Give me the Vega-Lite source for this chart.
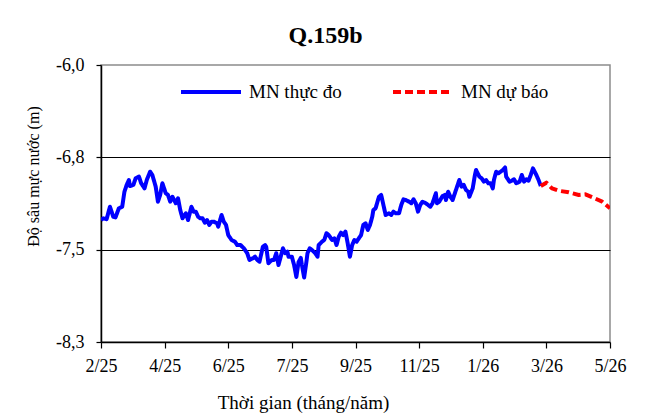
{
  "$schema": "https://vega.github.io/schema/vega-lite/v6.json",
  "autosize": "none",
  "width": 509,
  "height": 277,
  "padding": {"left": 101, "top": 65, "right": 42, "bottom": 78},
  "background": "white",
  "title": {"text": "Q.159b", "font": "Liberation Serif", "fontSize": 24, "fontWeight": "bold", "color": "black", "anchor": "middle", "dx": -30, "offset": 8},
  "data": {"values": [
    {"date": "2025-02-24", "depth": -7.287, "series": "MN thực đo"},
    {"date": "2025-02-26", "depth": -7.273, "series": "MN thực đo"},
    {"date": "2025-03-01", "depth": -7.281, "series": "MN thực đo"},
    {"date": "2025-03-04", "depth": -7.177, "series": "MN thực đo"},
    {"date": "2025-03-07", "depth": -7.260, "series": "MN thực đo"},
    {"date": "2025-03-09", "depth": -7.265, "series": "MN thực đo"},
    {"date": "2025-03-12", "depth": -7.190, "series": "MN thực đo"},
    {"date": "2025-03-15", "depth": -7.177, "series": "MN thực đo"},
    {"date": "2025-03-17", "depth": -7.052, "series": "MN thực đo"},
    {"date": "2025-03-19", "depth": -6.996, "series": "MN thực đo"},
    {"date": "2025-03-21", "depth": -6.955, "series": "MN thực đo"},
    {"date": "2025-03-22", "depth": -7.005, "series": "MN thực đo"},
    {"date": "2025-03-25", "depth": -6.996, "series": "MN thực đo"},
    {"date": "2025-03-27", "depth": -6.941, "series": "MN thực đo"},
    {"date": "2025-03-30", "depth": -6.927, "series": "MN thực đo"},
    {"date": "2025-04-01", "depth": -6.982, "series": "MN thực đo"},
    {"date": "2025-04-04", "depth": -7.024, "series": "MN thực đo"},
    {"date": "2025-04-06", "depth": -6.955, "series": "MN thực đo"},
    {"date": "2025-04-09", "depth": -6.886, "series": "MN thực đo"},
    {"date": "2025-04-11", "depth": -6.913, "series": "MN thực đo"},
    {"date": "2025-04-14", "depth": -7.010, "series": "MN thực đo"},
    {"date": "2025-04-16", "depth": -7.135, "series": "MN thực đo"},
    {"date": "2025-04-18", "depth": -7.079, "series": "MN thực đo"},
    {"date": "2025-04-20", "depth": -6.982, "series": "MN thực đo"},
    {"date": "2025-04-23", "depth": -7.065, "series": "MN thực đo"},
    {"date": "2025-04-25", "depth": -7.079, "series": "MN thực đo"},
    {"date": "2025-04-27", "depth": -7.135, "series": "MN thực đo"},
    {"date": "2025-04-29", "depth": -7.094, "series": "MN thực đo"},
    {"date": "2025-05-02", "depth": -7.148, "series": "MN thực đo"},
    {"date": "2025-05-04", "depth": -7.107, "series": "MN thực đo"},
    {"date": "2025-05-06", "depth": -7.204, "series": "MN thực đo"},
    {"date": "2025-05-08", "depth": -7.273, "series": "MN thực đo"},
    {"date": "2025-05-11", "depth": -7.231, "series": "MN thực đo"},
    {"date": "2025-05-13", "depth": -7.287, "series": "MN thực đo"},
    {"date": "2025-05-16", "depth": -7.177, "series": "MN thực đo"},
    {"date": "2025-05-18", "depth": -7.218, "series": "MN thực đo"},
    {"date": "2025-05-20", "depth": -7.218, "series": "MN thực đo"},
    {"date": "2025-05-22", "depth": -7.260, "series": "MN thực đo"},
    {"date": "2025-05-24", "depth": -7.273, "series": "MN thực đo"},
    {"date": "2025-05-26", "depth": -7.273, "series": "MN thực đo"},
    {"date": "2025-05-28", "depth": -7.309, "series": "MN thực đo"},
    {"date": "2025-05-30", "depth": -7.287, "series": "MN thực đo"},
    {"date": "2025-06-01", "depth": -7.328, "series": "MN thực đo"},
    {"date": "2025-06-03", "depth": -7.301, "series": "MN thực đo"},
    {"date": "2025-06-05", "depth": -7.301, "series": "MN thực đo"},
    {"date": "2025-06-08", "depth": -7.314, "series": "MN thực đo"},
    {"date": "2025-06-09", "depth": -7.343, "series": "MN thực đo"},
    {"date": "2025-06-12", "depth": -7.245, "series": "MN thực đo"},
    {"date": "2025-06-14", "depth": -7.301, "series": "MN thực đo"},
    {"date": "2025-06-16", "depth": -7.328, "series": "MN thực đo"},
    {"date": "2025-06-18", "depth": -7.412, "series": "MN thực đo"},
    {"date": "2025-06-21", "depth": -7.453, "series": "MN thực đo"},
    {"date": "2025-06-24", "depth": -7.467, "series": "MN thực đo"},
    {"date": "2025-06-26", "depth": -7.495, "series": "MN thực đo"},
    {"date": "2025-06-29", "depth": -7.495, "series": "MN thực đo"},
    {"date": "2025-07-02", "depth": -7.522, "series": "MN thực đo"},
    {"date": "2025-07-05", "depth": -7.563, "series": "MN thực đo"},
    {"date": "2025-07-07", "depth": -7.619, "series": "MN thực đo"},
    {"date": "2025-07-10", "depth": -7.605, "series": "MN thực đo"},
    {"date": "2025-07-12", "depth": -7.592, "series": "MN thực đo"},
    {"date": "2025-07-14", "depth": -7.619, "series": "MN thực đo"},
    {"date": "2025-07-16", "depth": -7.633, "series": "MN thực đo"},
    {"date": "2025-07-19", "depth": -7.509, "series": "MN thực đo"},
    {"date": "2025-07-21", "depth": -7.495, "series": "MN thực đo"},
    {"date": "2025-07-22", "depth": -7.509, "series": "MN thực đo"},
    {"date": "2025-07-24", "depth": -7.646, "series": "MN thực đo"},
    {"date": "2025-07-27", "depth": -7.619, "series": "MN thực đo"},
    {"date": "2025-07-29", "depth": -7.619, "series": "MN thực đo"},
    {"date": "2025-07-31", "depth": -7.563, "series": "MN thực đo"},
    {"date": "2025-08-02", "depth": -7.661, "series": "MN thực đo"},
    {"date": "2025-08-04", "depth": -7.592, "series": "MN thực đo"},
    {"date": "2025-08-06", "depth": -7.522, "series": "MN thực đo"},
    {"date": "2025-08-08", "depth": -7.563, "series": "MN thực đo"},
    {"date": "2025-08-10", "depth": -7.550, "series": "MN thực đo"},
    {"date": "2025-08-11", "depth": -7.592, "series": "MN thực đo"},
    {"date": "2025-08-14", "depth": -7.592, "series": "MN thực đo"},
    {"date": "2025-08-16", "depth": -7.661, "series": "MN thực đo"},
    {"date": "2025-08-18", "depth": -7.760, "series": "MN thực đo"},
    {"date": "2025-08-20", "depth": -7.636, "series": "MN thực đo"},
    {"date": "2025-08-22", "depth": -7.602, "series": "MN thực đo"},
    {"date": "2025-08-23", "depth": -7.661, "series": "MN thực đo"},
    {"date": "2025-08-25", "depth": -7.764, "series": "MN thực đo"},
    {"date": "2025-08-27", "depth": -7.636, "series": "MN thực đo"},
    {"date": "2025-08-28", "depth": -7.563, "series": "MN thực đo"},
    {"date": "2025-08-30", "depth": -7.522, "series": "MN thực đo"},
    {"date": "2025-09-01", "depth": -7.536, "series": "MN thực đo"},
    {"date": "2025-09-04", "depth": -7.563, "series": "MN thực đo"},
    {"date": "2025-09-06", "depth": -7.592, "series": "MN thực đo"},
    {"date": "2025-09-07", "depth": -7.495, "series": "MN thực đo"},
    {"date": "2025-09-10", "depth": -7.467, "series": "MN thực đo"},
    {"date": "2025-09-12", "depth": -7.453, "series": "MN thực đo"},
    {"date": "2025-09-14", "depth": -7.397, "series": "MN thực đo"},
    {"date": "2025-09-16", "depth": -7.412, "series": "MN thực đo"},
    {"date": "2025-09-19", "depth": -7.453, "series": "MN thực đo"},
    {"date": "2025-09-21", "depth": -7.439, "series": "MN thực đo"},
    {"date": "2025-09-23", "depth": -7.495, "series": "MN thực đo"},
    {"date": "2025-09-25", "depth": -7.426, "series": "MN thực đo"},
    {"date": "2025-09-27", "depth": -7.392, "series": "MN thực đo"},
    {"date": "2025-09-29", "depth": -7.412, "series": "MN thực đo"},
    {"date": "2025-10-01", "depth": -7.384, "series": "MN thực đo"},
    {"date": "2025-10-03", "depth": -7.480, "series": "MN thực đo"},
    {"date": "2025-10-05", "depth": -7.592, "series": "MN thực đo"},
    {"date": "2025-10-07", "depth": -7.495, "series": "MN thực đo"},
    {"date": "2025-10-09", "depth": -7.453, "series": "MN thực đo"},
    {"date": "2025-10-11", "depth": -7.467, "series": "MN thực đo"},
    {"date": "2025-10-13", "depth": -7.439, "series": "MN thực đo"},
    {"date": "2025-10-15", "depth": -7.412, "series": "MN thực đo"},
    {"date": "2025-10-17", "depth": -7.328, "series": "MN thực đo"},
    {"date": "2025-10-19", "depth": -7.314, "series": "MN thực đo"},
    {"date": "2025-10-21", "depth": -7.370, "series": "MN thực đo"},
    {"date": "2025-10-23", "depth": -7.328, "series": "MN thực đo"},
    {"date": "2025-10-25", "depth": -7.260, "series": "MN thực đo"},
    {"date": "2025-10-26", "depth": -7.204, "series": "MN thực đo"},
    {"date": "2025-10-28", "depth": -7.190, "series": "MN thực đo"},
    {"date": "2025-10-31", "depth": -7.094, "series": "MN thực đo"},
    {"date": "2025-11-02", "depth": -7.079, "series": "MN thực đo"},
    {"date": "2025-11-04", "depth": -7.162, "series": "MN thực đo"},
    {"date": "2025-11-06", "depth": -7.245, "series": "MN thực đo"},
    {"date": "2025-11-09", "depth": -7.231, "series": "MN thực đo"},
    {"date": "2025-11-11", "depth": -7.245, "series": "MN thực đo"},
    {"date": "2025-11-13", "depth": -7.218, "series": "MN thực đo"},
    {"date": "2025-11-15", "depth": -7.231, "series": "MN thực đo"},
    {"date": "2025-11-18", "depth": -7.231, "series": "MN thực đo"},
    {"date": "2025-11-20", "depth": -7.162, "series": "MN thực đo"},
    {"date": "2025-11-22", "depth": -7.115, "series": "MN thực đo"},
    {"date": "2025-11-24", "depth": -7.121, "series": "MN thực đo"},
    {"date": "2025-11-27", "depth": -7.135, "series": "MN thực đo"},
    {"date": "2025-11-29", "depth": -7.148, "series": "MN thực đo"},
    {"date": "2025-12-01", "depth": -7.115, "series": "MN thực đo"},
    {"date": "2025-12-03", "depth": -7.148, "series": "MN thực đo"},
    {"date": "2025-12-05", "depth": -7.218, "series": "MN thực đo"},
    {"date": "2025-12-07", "depth": -7.162, "series": "MN thực đo"},
    {"date": "2025-12-09", "depth": -7.135, "series": "MN thực đo"},
    {"date": "2025-12-12", "depth": -7.148, "series": "MN thực đo"},
    {"date": "2025-12-14", "depth": -7.162, "series": "MN thực đo"},
    {"date": "2025-12-16", "depth": -7.177, "series": "MN thực đo"},
    {"date": "2025-12-18", "depth": -7.148, "series": "MN thực đo"},
    {"date": "2025-12-21", "depth": -7.065, "series": "MN thực đo"},
    {"date": "2025-12-22", "depth": -7.148, "series": "MN thực đo"},
    {"date": "2025-12-24", "depth": -7.135, "series": "MN thực đo"},
    {"date": "2025-12-27", "depth": -7.088, "series": "MN thực đo"},
    {"date": "2025-12-29", "depth": -7.079, "series": "MN thực đo"},
    {"date": "2025-12-30", "depth": -7.121, "series": "MN thực đo"},
    {"date": "2026-01-01", "depth": -7.052, "series": "MN thực đo"},
    {"date": "2026-01-03", "depth": -7.094, "series": "MN thực đo"},
    {"date": "2026-01-05", "depth": -7.121, "series": "MN thực đo"},
    {"date": "2026-01-07", "depth": -7.065, "series": "MN thực đo"},
    {"date": "2026-01-09", "depth": -7.010, "series": "MN thực đo"},
    {"date": "2026-01-11", "depth": -6.955, "series": "MN thực đo"},
    {"date": "2026-01-13", "depth": -7.010, "series": "MN thực đo"},
    {"date": "2026-01-15", "depth": -6.996, "series": "MN thực đo"},
    {"date": "2026-01-17", "depth": -7.038, "series": "MN thực đo"},
    {"date": "2026-01-19", "depth": -7.052, "series": "MN thực đo"},
    {"date": "2026-01-20", "depth": -7.094, "series": "MN thực đo"},
    {"date": "2026-01-23", "depth": -7.024, "series": "MN thực đo"},
    {"date": "2026-01-25", "depth": -6.913, "series": "MN thực đo"},
    {"date": "2026-01-26", "depth": -6.872, "series": "MN thực đo"},
    {"date": "2026-01-29", "depth": -6.927, "series": "MN thực đo"},
    {"date": "2026-01-31", "depth": -6.941, "series": "MN thực đo"},
    {"date": "2026-02-02", "depth": -6.969, "series": "MN thực đo"},
    {"date": "2026-02-04", "depth": -6.955, "series": "MN thực đo"},
    {"date": "2026-02-06", "depth": -6.982, "series": "MN thực đo"},
    {"date": "2026-02-08", "depth": -6.982, "series": "MN thực đo"},
    {"date": "2026-02-10", "depth": -7.024, "series": "MN thực đo"},
    {"date": "2026-02-11", "depth": -6.955, "series": "MN thực đo"},
    {"date": "2026-02-13", "depth": -6.886, "series": "MN thực đo"},
    {"date": "2026-02-15", "depth": -6.899, "series": "MN thực đo"},
    {"date": "2026-02-17", "depth": -6.886, "series": "MN thực đo"},
    {"date": "2026-02-19", "depth": -6.872, "series": "MN thực đo"},
    {"date": "2026-02-21", "depth": -6.851, "series": "MN thực đo"},
    {"date": "2026-02-22", "depth": -6.927, "series": "MN thực đo"},
    {"date": "2026-02-25", "depth": -6.969, "series": "MN thực đo"},
    {"date": "2026-02-27", "depth": -6.961, "series": "MN thực đo"},
    {"date": "2026-03-01", "depth": -6.949, "series": "MN thực đo"},
    {"date": "2026-03-03", "depth": -6.982, "series": "MN thực đo"},
    {"date": "2026-03-06", "depth": -6.969, "series": "MN thực đo"},
    {"date": "2026-03-08", "depth": -6.913, "series": "MN thực đo"},
    {"date": "2026-03-10", "depth": -6.969, "series": "MN thực đo"},
    {"date": "2026-03-12", "depth": -6.949, "series": "MN thực đo"},
    {"date": "2026-03-14", "depth": -6.961, "series": "MN thực đo"},
    {"date": "2026-03-16", "depth": -6.913, "series": "MN thực đo"},
    {"date": "2026-03-18", "depth": -6.858, "series": "MN thực đo"},
    {"date": "2026-03-21", "depth": -6.913, "series": "MN thực đo"},
    {"date": "2026-03-23", "depth": -6.955, "series": "MN thực đo"},
    {"date": "2026-03-25", "depth": -7.005, "series": "MN thực đo"},
    {"date": "2026-03-25", "depth": -7.005, "series": "MN dự báo"},
    {"date": "2026-03-30", "depth": -6.977, "series": "MN dự báo"},
    {"date": "2026-04-04", "depth": -7.024, "series": "MN dự báo"},
    {"date": "2026-04-10", "depth": -7.044, "series": "MN dự báo"},
    {"date": "2026-04-19", "depth": -7.057, "series": "MN dự báo"},
    {"date": "2026-04-28", "depth": -7.079, "series": "MN dự báo"},
    {"date": "2026-05-04", "depth": -7.074, "series": "MN dự báo"},
    {"date": "2026-05-11", "depth": -7.102, "series": "MN dự báo"},
    {"date": "2026-05-19", "depth": -7.135, "series": "MN dự báo"},
    {"date": "2026-05-26", "depth": -7.190, "series": "MN dự báo"}
  ]},
  "mark": {"type": "line", "strokeWidth": 4, "strokeCap": "butt", "strokeJoin": "round", "clip": true},
  "encoding": {
    "x": {
      "field": "date", "type": "temporal",
      "scale": {"domain": [{"year": 2025, "month": 2, "date": 24}, {"year": 2026, "month": 5, "date": 26}], "nice": false},
      "axis": {
        "values": [
          {"year": 2025, "month": 2, "date": 24}, {"year": 2025, "month": 4, "date": 22},
          {"year": 2025, "month": 6, "date": 18}, {"year": 2025, "month": 8, "date": 14},
          {"year": 2025, "month": 10, "date": 10}, {"year": 2025, "month": 12, "date": 6},
          {"year": 2026, "month": 2, "date": 1}, {"year": 2026, "month": 3, "date": 30},
          {"year": 2026, "month": 5, "date": 26}
        ],
        "labelExpr": "['2/25','4/25','6/25','7/25','9/25','11/25','1/26','3/26','5/26'][round((datum.value - datetime(2025,1,24)) / 4924800000)]",
        "title": "Thời gian (tháng/năm)",
        "titleX": 202, "titleY": 60, "titleAlign": "center", "titleBaseline": "middle", "titleFontSize": 19,
        "grid": false, "tickSize": 6, "labelPadding": 9, "labelFlush": false, "labelOverlap": false
      }
    },
    "y": {
      "field": "depth", "type": "quantitative",
      "scale": {"domain": [-8.3, -6.0], "nice": false, "zero": false},
      "axis": {
        "values": [-6.0, -6.766667, -7.533333, -8.3],
        "labelExpr": "'-' + replace(format(abs(datum.value), '.1f'), '.', ',')",
        "title": "Độ sâu mực nước (m)",
        "titleX": -68, "titleY": 111, "titleAlign": "center", "titleBaseline": "middle", "titleAngle": -90, "titleFontSize": 16,
        "grid": true, "gridColor": "black", "gridWidth": 1.2,
        "gridOpacity": {"condition": {"test": "datum.value > -6.05 || datum.value < -8.25", "value": 0}, "value": 1},
        "tickSize": 5, "labelPadding": 12
      }
    },
    "color": {
      "field": "series", "type": "nominal",
      "scale": {"domain": ["MN thực đo", "MN dự báo"], "range": ["#0000FF", "#FF0000"]},
      "legend": {
        "orient": "none", "legendX": 78, "legendY": -5, "direction": "horizontal", "title": null,
        "symbolType": "stroke", "symbolSize": 3600, "symbolStrokeWidth": 4,
        "labelFont": "Liberation Serif", "labelFontSize": 19, "labelColor": "black", "labelOffset": 6,
        "columnPadding": 43, "padding": 0
      }
    },
    "strokeDash": {
      "field": "series", "type": "nominal",
      "scale": {"domain": ["MN thực đo", "MN dự báo"], "range": [[1, 0], [8, 4]]},
      "legend": null
    }
  },
  "config": {
    "font": "Liberation Serif",
    "view": {"stroke": "#8c8c8c", "strokeWidth": 1.5},
    "axis": {
      "labelFont": "Liberation Serif", "labelFontSize": 18, "labelColor": "black",
      "titleFont": "Liberation Serif", "titleFontWeight": "normal", "titleColor": "black",
      "domainColor": "black", "domainWidth": 1.5, "tickColor": "black", "tickWidth": 1.2
    }
  }
}
